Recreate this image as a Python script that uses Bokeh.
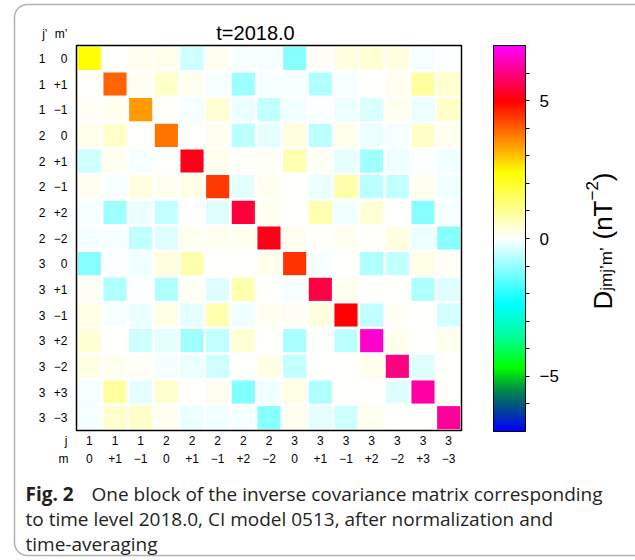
import numpy as np
from bokeh.plotting import figure
from bokeh.models import (Range1d, LinearColorMapper, ColorBar, FixedTicker, Label,
                          BoxAnnotation, ColumnDataSource)
from bokeh.core.properties import value
from bokeh.embed import file_html
from bokeh.resources import INLINE

# ---------------- data ----------------
j_labels = ["1", "1", "1", "2", "2", "2", "2", "2", "3", "3", "3", "3", "3", "3", "3"]
m_labels = ["0", "+1", "−1", "0", "+1", "−1", "+2", "−2", "0", "+1", "−1", "+2", "−2", "+3", "−3"]

row_10 = [2.4, 0.05, 0.12, 0.2, -0.45, 0.12, -0.1, -0.1, -1.1, 0.1, 0.3, 0.4, 0.3, -0.1, -0.03]
row_1p1 = [0.05, 3.96, 0.12, 0.5, 0.12, -0.1, -0.9, -0.1, -0.07, -0.75, -0.1, 0.02, 0.12, 0.9, 0.45]
row_1m1 = [0.1, 0.12, 3.44, 0.0, -0.1, 0.4, -0.17, -0.6, -0.14, -0.03, -0.2, -0.35, 0.12, -0.2, 0.5]
row_20 = [0.2, 0.5, 0.0, 3.79, 0.0, 0.12, -0.65, -0.25, 0.3, -0.65, 0.2, -0.2, -0.1, 0.5, 0.12]
row_2p1 = [-0.45, 0.12, -0.1, 0.0, 5.19, 0.2, 0.0, 0.08, 0.75, 0.08, -0.25, -0.9, -0.17, -0.03, -0.14]
row_2m1 = [0.12, -0.1, 0.3, 0.12, 0.25, 4.38, -0.25, 0.12, 0.0, -0.2, 0.8, -0.65, -0.55, 0.12, -0.14]
row_2p2 = [-0.1, -0.9, -0.17, -0.6, 0.0, -0.3, 5.44, 0.12, 0.0, 0.75, -0.14, 0.4, 0.0, -1.1, -0.07]
row_2m2 = [-0.1, -0.07, -0.6, -0.3, 0.12, 0.12, 0.12, 5.19, 0.12, 0.02, 0.12, 0.0, 0.3, -0.17, -1.1]
row_30 = [-1.1, -0.03, -0.14, 0.3, 0.8, 0.0, 0.0, 0.2, 4.48, -0.1, 0.05, -0.75, -0.55, 0.25, 0.08]
row_3p1 = [0.08, -0.75, -0.03, -0.75, 0.08, -0.3, 0.75, 0.02, -0.1, 5.5, 0.12, 0.02, 0.0, -0.75, -0.3]
row_3m1 = [0.25, -0.1, -0.17, 0.25, -0.25, 0.75, -0.14, 0.12, 0.08, 0.3, 5.0, -0.6, 0.08, 0.05, -0.4]
row_3p2 = [0.4, 0.0, -0.45, -0.25, -0.9, -0.6, 0.4, 0.0, -0.8, 0.03, -0.65, 6.6, 0.2, 0.02, 0.12]
row_3m2 = [0.25, 0.12, 0.08, -0.1, -0.17, -0.45, 0.0, 0.25, -0.55, 0.02, 0.05, 0.2, 6.0, -0.3, 0.02]
row_3p3 = [-0.1, 0.9, -0.25, 0.45, 0.0, 0.12, -1.15, -0.14, 0.25, -0.75, 0.05, 0.03, -0.3, 6.25, 0.03]
row_3m3 = [-0.07, 0.45, 0.5, 0.12, -0.17, -0.14, -0.1, -1.1, 0.12, -0.25, -0.45, 0.12, 0.03, 0.02, 6.19]

rows = [row_10, row_1p1, row_1m1, row_20, row_2p1, row_2m1, row_2p2, row_2m2,
        row_30, row_3p1, row_3m1, row_3p2, row_3m2, row_3p3, row_3m3]

title_text = "t=2018.0"
cbar_low, cbar_high = -7, 7
cbar_ticks = list(range(-6, 7))
cbar_labelled = {-5: "−5", 0: "0", 5: "5"}

caption_bold = "Fig. 2"
caption_lines = ["One block of the inverse covariance matrix corresponding",
                 "to time level 2018.0, CI model 0513, after normalization and",
                 "time-averaging"]

# ---------------- colour map ----------------
anchors = [(-7.0, "#0000ff"), (-6.2, "#004a8c"), (-5.5, "#008c46"), (-4.7, "#00ff00"),
           (-3.5, "#00ffa0"), (-2.4, "#00ffff"), (0.0, "#ffffff"), (2.4, "#ffff00"),
           (5.0, "#ff0000"), (7.0, "#ff00ff")]
av = np.array([a[0] for a in anchors])
ac = np.array([[int(h[1:3], 16), int(h[3:5], 16), int(h[5:7], 16)] for _, h in anchors])
palette = []
for v in np.linspace(cbar_low, cbar_high, 256):
    rgb = [int(round(np.interp(v, av, ac[:, k]))) for k in range(3)]
    palette.append("#%02x%02x%02x" % tuple(rgb))
mapper = LinearColorMapper(palette=palette, low=cbar_low, high=cbar_high)

# ---------------- geometry (canvas pixels) ----------------
W, H = 635, 560
FL, FR, FT = 76, 461, 45          # matrix frame left / right / top
n = len(j_labels)
cw = (FR - FL) / n                # pixels per cell

xs, ys, vs = [], [], []
for r, row in enumerate(rows):
    for c, v in enumerate(row):
        xs.append(c)
        ys.append(r)
        vs.append(v)
src = ColumnDataSource(dict(x=xs, y=ys, v=vs))

p = figure(width=W, height=H,
           x_range=Range1d(-0.5 - FL / cw, -0.5 + (W - FL) / cw),
           y_range=Range1d(-0.5 + (H - FT) / cw, -0.5 - FT / cw),
           output_backend="svg", toolbar_location=None,
           x_axis_location=None, y_axis_location=None, min_border=0)
p.grid.visible = False
p.outline_line_color = None
p.background_fill_color = "white"
p.border_fill_color = "white"

p.rect(x="x", y="y", width=0.9, height=0.9, source=src,
       fill_color={"field": "v", "transform": mapper}, line_color=None)
# matrix frame
p.rect(x=(n - 1) / 2, y=(n - 1) / 2, width=n, height=n, fill_color=None,
       line_color="black", line_width=1.5)

FONT = "Liberation Sans"
idx = list(range(n))
edge_lo = -0.5
edge_hi = n - 0.5

# row labels (j', m')
p.text(x=[edge_lo] * n, y=idx, text=j_labels, text_font=value(FONT), text_font_size="12px",
       text_align="right", text_baseline="middle", x_offset=-31, text_color="black")
p.text(x=[edge_lo] * n, y=idx, text=m_labels, text_font=value(FONT), text_font_size="12px",
       text_align="right", text_baseline="middle", x_offset=-9, text_color="black")
# column labels (j, m)
p.text(x=idx, y=[edge_hi] * n, text=j_labels, text_font=value(FONT), text_font_size="12px",
       text_align="center", text_baseline="middle", y_offset=10, text_color="black")
p.text(x=idx, y=[edge_hi] * n, text=m_labels, text_font=value(FONT), text_font_size="12px",
       text_align="center", text_baseline="middle", y_offset=28, text_color="black")

# colour bar
cb = ColorBar(color_mapper=mapper, ticker=FixedTicker(ticks=cbar_ticks),
              major_label_overrides={float(t): cbar_labelled.get(t, "") for t in cbar_ticks},
              width=32, height=386, location=(493, H - 431), padding=0, margin=0,
              bar_line_color="black", bar_line_width=1,
              major_tick_line_color="black", major_tick_in=0, major_tick_out=4,
              minor_tick_line_color=None, label_standoff=10,
              major_label_text_font=FONT, major_label_text_font_size="17px",
              major_label_text_color="black",
              background_fill_alpha=0, border_line_color=None)
p.add_layout(cb)


def lab(cx, cy, text, size, align="center", baseline="middle", font=FONT, style="normal",
        angle=0.0, color="black"):
    p.add_layout(Label(x=cx, y=H - cy, x_units="screen", y_units="screen", text=text,
                       text_font=font, text_font_size=f"{size}px", text_font_style=style,
                       text_align=align, text_baseline=baseline, angle=angle,
                       text_color=color))


lab(255, 32, title_text, 20)
lab(47, 33, "j’", 12, align="right")
lab(67, 33, "m’", 12, align="right")
lab(67, 440, "j", 12, align="right")
lab(68, 458, "m", 12, align="right")

# rotated colour-bar label D_{jmj'm'} (nT^-2)
CW = {"D": .722, "j": .222, "m": .833, "’": .222, " ": .278, "(": .333, "n": .556,
      "T": .611, "−": .584, "2": .556, ")": .333}
big, small = 26, 17
bx = 602
y0 = 309
pieces = [("D", big, 0, 0), ("jmj’m’", small, 4, 0.3 * big), ("(nT", big, 0, 0),
          ("−2", small, -11, 0), (")", big, 0, 0)]
for txt, fs, dx, gap in pieces:
    lab(bx + dx, y0, txt, fs, align="left", baseline="alphabetic", angle=np.pi / 2)
    y0 -= sum(CW[ch] for ch in txt) * fs + gap

# caption
CFONT = "Open Sans"
CCOL = "#231f20"
CS = 19
lab(25, 493, caption_bold, CS, align="left", baseline="alphabetic", font=CFONT, style="bold", color=CCOL)
lab(91, 493, caption_lines[0], CS, align="left", baseline="alphabetic", font=CFONT, color=CCOL)
lab(25, 518, caption_lines[1], CS, align="left", baseline="alphabetic", font=CFONT, color=CCOL)
lab(25, 543, caption_lines[2], CS, align="left", baseline="alphabetic", font=CFONT, color=CCOL)

# rounded frame around figure + caption
p.add_layout(BoxAnnotation(left=14, right=W + 40, top=H - 4, bottom=H - 555,
                           left_units="screen", right_units="screen", top_units="screen",
                           bottom_units="screen", fill_alpha=0, line_color="#000000",
                           line_width=1.5, border_radius=13))

open("out.html", "w").write(file_html(p, INLINE))
